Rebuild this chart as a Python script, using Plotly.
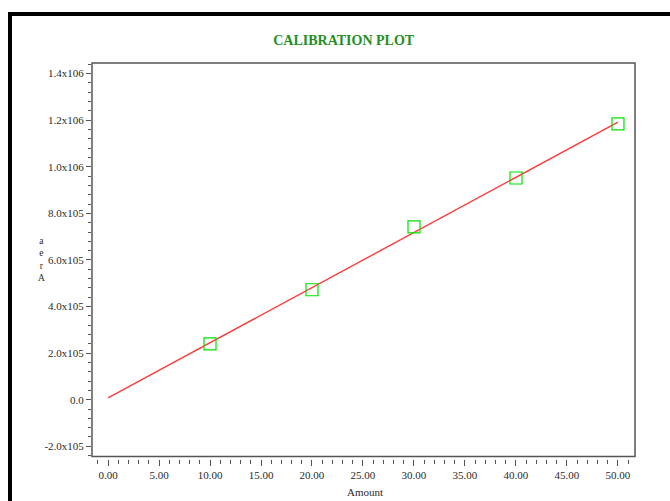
import numpy as np
import plotly.graph_objects as go

# Calibration standards: amount vs. measured peak area
amount = [10, 20, 30, 40, 50]
area = [2.40e5, 4.72e5, 7.42e5, 9.52e5, 1.184e6]

x_tickvals = [0, 5, 10, 15, 20, 25, 30, 35, 40, 45, 50]
x_ticktext = ["0.00", "5.00", "10.00", "15.00", "20.00", "25.00",
              "30.00", "35.00", "40.00", "45.00", "50.00"]
y_tickvals = [-2e5, 0, 2e5, 4e5, 6e5, 8e5, 1e6, 1.2e6, 1.4e6]
y_ticktext = ["-2.0x105", "0.0", "2.0x105", "4.0x105", "6.0x105",
              "8.0x105", "1.0x106", "1.2x106", "1.4x106"]

# Least-squares calibration line through the standards
slope, intercept = np.polyfit(amount, area, 1)
fit_x = np.array([0.0, 50.0])
fit_y = slope * fit_x + intercept

W, H = 670, 501
L, R, T, B = 92, 35, 63, 42
pw, ph = W - L - R, H - T - B


def px_x(px):
    return (px - L) / pw


def px_y(py):
    return (H - B - py) / ph


serif = "Liberation Serif, Times New Roman, serif"

fig = go.Figure()
fig.add_trace(go.Scatter(
    x=fit_x, y=fit_y, mode="lines",
    line=dict(color="#ff3b3b", width=1.4),
    hoverinfo="skip", showlegend=False,
))
fig.add_trace(go.Scatter(
    x=amount, y=area, mode="markers",
    marker=dict(symbol="square-open", size=12,
                color="#00e000", line=dict(width=1.2, color="#00e000")),
    showlegend=False,
))

fig.update_layout(
    width=W, height=H,
    margin=dict(l=L, r=R, t=T, b=B),
    paper_bgcolor="white", plot_bgcolor="white",
    font=dict(family=serif, size=11, color="#2a2a2a"),
    title=dict(text="<b>CALIBRATION PLOT</b>", x=0.513, xanchor="center",
               y=1 - 40 / H, yanchor="middle",
               font=dict(family=serif, size=14, color="#1f8f1f")),
    xaxis=dict(
        range=[-1.57, 51.67], showgrid=False, zeroline=False,
        showline=False, anchor="free", position=0,
        tickvals=x_tickvals, ticktext=x_ticktext,
        ticks="outside", ticklen=6, tickwidth=1, tickcolor="#555555",
        minor=dict(dtick=1, ticks="outside", ticklen=4,
                   tickwidth=1, tickcolor="#555555"),
    ),
    yaxis=dict(
        range=[-2.445e5, 1.4457e6], domain=[0.006, 1],
        showgrid=False, zeroline=False, showline=False,
        tickvals=y_tickvals, ticktext=y_ticktext,
        ticks="outside", ticklen=5, tickwidth=1, tickcolor="#555555",
        minor=dict(tick0=0, dtick=4e4, ticks="outside", ticklen=3,
                   tickwidth=1, tickcolor="#555555"),
    ),
    shapes=[
        # plot frame
        dict(type="rect", xref="x domain", yref="y domain",
             x0=0, x1=1, y0=0, y1=1,
             line=dict(color="#555555", width=1.5)),
        # heavy outer border (left and top)
        dict(type="line", xref="paper", yref="paper",
             x0=px_x(10), x1=px_x(10), y0=px_y(12), y1=px_y(520),
             line=dict(color="black", width=4)),
        dict(type="line", xref="paper", yref="paper",
             x0=px_x(8), x1=px_x(700), y0=px_y(14), y1=px_y(14),
             line=dict(color="black", width=4)),
    ],
    annotations=[
        dict(text="Amount", xref="paper", yref="paper",
             x=px_x(365), y=px_y(492), xanchor="center", yanchor="middle",
             showarrow=False, font=dict(family=serif, size=11, color="#2a2a2a")),
        dict(text="a<br>e<br>r<br>A", xref="paper", yref="paper",
             x=px_x(41), y=px_y(259), xanchor="center", yanchor="middle",
             showarrow=False,
             font=dict(family=serif, size=9.5, color="#2a2a2a")),
    ],
)

fig.write_html("out.html")
